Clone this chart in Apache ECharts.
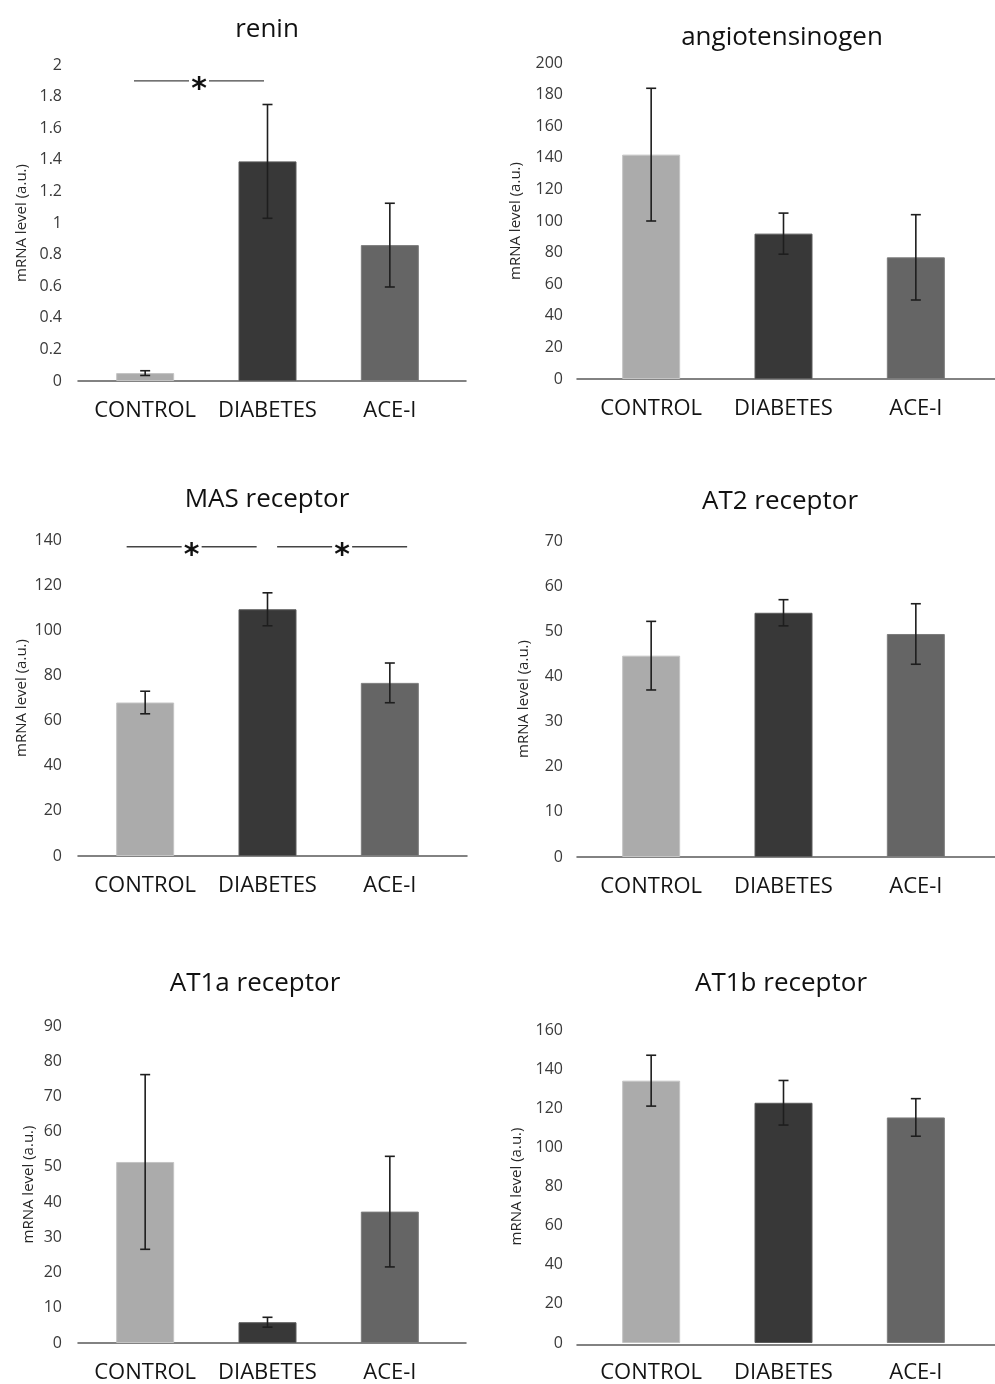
<!DOCTYPE html>
<html>
<head>
<meta charset="utf-8">
<script src="https://cdn.jsdelivr.net/npm/echarts@6/dist/echarts.min.js"></script>
<style>
html,body{margin:0;padding:0;background:#fff;}
#chart{width:995px;height:1384px;}
</style>
</head>
<body>
<div id="chart"></div>
<script>
// ---------- data ----------
const categories = ['CONTROL', 'DIABETES', 'ACE-I'];
const panelTitles = ['renin', 'angiotensinogen', 'MAS receptor', 'AT2 receptor', 'AT1a receptor', 'AT1b receptor'];
const yAxisName = 'mRNA level (a.u.)';

const reninMean = [0.05, 1.39, 0.86];
const reninErr  = [0.015, 0.36, 0.265];
const angioMean = [142, 92, 77];
const angioErr  = [42, 13, 27];
const masMean   = [68, 109.3, 76.7];
const masErr    = [5, 7.3, 8.8];
const at2Mean   = [44.6, 54.1, 49.4];
const at2Err    = [7.6, 2.9, 6.7];
const at1aMean  = [51.4, 5.9, 37.3];
const at1aErr   = [24.8, 1.4, 15.7];
const at1bMean  = [134.1, 122.8, 115.3];
const at1bErr   = [13, 11.4, 9.6];

const yMaxes    = [2, 200, 140, 70, 90, 160];
const ySteps    = [0.2, 20, 20, 10, 10, 20];

// significance stars: [category position (fractional), level]
const reninSig = [[0.44, 1.9]];
const masSig   = [[0.38, 137], [1.61, 137]];

const means = [reninMean, angioMean, masMean, at2Mean, at1aMean, at1bMean];
const errs  = [reninErr, angioErr, masErr, at2Err, at1aErr, at1bErr];
const sigs  = [reninSig, [], masSig, [], [], []];

// ---------- layout / style ----------
const barColors    = ['#ababab', '#383838', '#656565'];
const borderColors = ['#c4c4c4', '#5a5a5a', '#7c7c7c'];
const FONT = "'Open Sans', 'DejaVu Sans', sans-serif";
const layout = [
  {left: 84,  width: 367, top: 65,   height: 316, axL: 78,  axW: 388, tx: 267, ty: 12,  gap: 55},
  {left: 585, width: 397, top: 63,   height: 316, axL: 577, axW: 418, tx: 782, ty: 20,  gap: 62},
  {left: 84,  width: 367, top: 540,  height: 316, axL: 78,  axW: 389, tx: 267, ty: 482, gap: 55},
  {left: 585, width: 397, top: 541,  height: 316, axL: 577, axW: 418, tx: 780, ty: 484, gap: 54},
  {left: 84,  width: 367, top: 1026, height: 317, axL: 78,  axW: 388, tx: 255, ty: 966, gap: 48},
  {left: 585, width: 397, top: 1030, height: 315, axL: 577, axW: 418, tx: 781, ty: 966, gap: 61}
];

const grids = [], xAxes = [], yAxes = [], series = [], titles = [];

function renderErr(params, api) {
  const x = api.value(0);
  const lo = api.coord([x, api.value(1)]);
  const hi = api.coord([x, api.value(2)]);
  const cap = 5;
  const st = {stroke: '#1e1e1e', lineWidth: 1.6};
  return {type: 'group', children: [
    {type: 'line', shape: {x1: hi[0], y1: hi[1], x2: lo[0], y2: lo[1]}, style: st},
    {type: 'line', shape: {x1: hi[0] - cap, y1: hi[1], x2: hi[0] + cap, y2: hi[1]}, style: st},
    {type: 'line', shape: {x1: lo[0] - cap, y1: lo[1], x2: lo[0] + cap, y2: lo[1]}, style: st}
  ]};
}

function renderSig(params, api) {
  const base = api.coord([0, api.value(1)]);
  const band = api.size([1, 0])[0];
  const cx = base[0] + api.value(2) * band;
  const y = base[1];
  const half = 65, g = 10;
  const st = {stroke: '#444', lineWidth: 1.3};
  return {type: 'group', children: [
    {type: 'line', shape: {x1: cx - half, y1: y, x2: cx - g, y2: y}, style: st},
    {type: 'line', shape: {x1: cx + g, y1: y, x2: cx + half, y2: y}, style: st},
    {type: 'text', style: {text: '*', x: cx, y: y + 9, fill: '#111', font: "bold 30px 'DejaVu Sans'", align: 'center', verticalAlign: 'middle'}}
  ]};
}

layout.forEach((L, p) => {
  grids.push({left: L.left, width: L.width, top: L.top, height: L.height, containLabel: false});
  grids.push({left: L.axL, width: L.axW, top: L.top, height: L.height, containLabel: false});
  const gb = 2 * p, ga = 2 * p + 1;

  xAxes.push({
    type: 'category', gridIndex: gb, data: categories,
    axisLine: {show: false}, axisTick: {show: false},
    axisLabel: {fontSize: 22, color: '#141414', margin: 19, fontFamily: FONT, interval: 0}
  });
  xAxes.push({
    type: 'value', gridIndex: ga, min: 0, max: 1,
    axisLine: {show: true, lineStyle: {color: '#595959', width: 1.5}},
    axisTick: {show: false}, axisLabel: {show: false}, splitLine: {show: false}
  });
  yAxes.push({
    type: 'value', gridIndex: gb, min: 0, max: yMaxes[p], interval: ySteps[p],
    name: yAxisName, nameLocation: 'middle', nameRotate: 90, nameGap: L.gap,
    nameTextStyle: {fontSize: 15, color: '#262626', fontFamily: FONT},
    axisLine: {show: false}, axisTick: {show: false}, splitLine: {show: false},
    axisLabel: {fontSize: 16, color: '#3a3a3a', margin: 22, fontFamily: FONT}
  });
  yAxes.push({type: 'value', gridIndex: ga, min: 0, max: 1, show: false});

  const bx = 2 * p, by = 2 * p;
  series.push({
    type: 'bar', xAxisIndex: bx, yAxisIndex: by, barWidth: 58,
    data: means[p].map((v, i) => ({
      value: v,
      itemStyle: {color: barColors[i], borderColor: borderColors[i], borderWidth: 1}
    })),
    silent: true, animation: false
  });
  series.push({
    type: 'custom', xAxisIndex: bx, yAxisIndex: by,
    data: means[p].map((m, i) => [i, m - errs[p][i], m + errs[p][i]]),
    encode: {x: 0, y: [1, 2]}, renderItem: renderErr, z: 5, silent: true, animation: false
  });
  if (sigs[p].length) {
    series.push({
      type: 'custom', xAxisIndex: bx, yAxisIndex: by,
      data: sigs[p].map(s => [0, s[1], s[0]]),
      encode: {x: 0, y: 1}, renderItem: renderSig, z: 6, silent: true, animation: false, clip: false
    });
  }
  titles.push({
    text: panelTitles[p], left: L.tx - 5, top: L.ty, textAlign: 'center',
    textStyle: {fontSize: 26, fontWeight: 'normal', color: '#111', fontFamily: FONT}
  });
});

const chart = echarts.init(document.getElementById('chart'), null, {renderer: 'canvas'});
chart.setOption({
  backgroundColor: '#fff',
  animation: false,
  title: titles,
  grid: grids,
  xAxis: xAxes,
  yAxis: yAxes,
  series: series
});
</script>
</body>
</html>
